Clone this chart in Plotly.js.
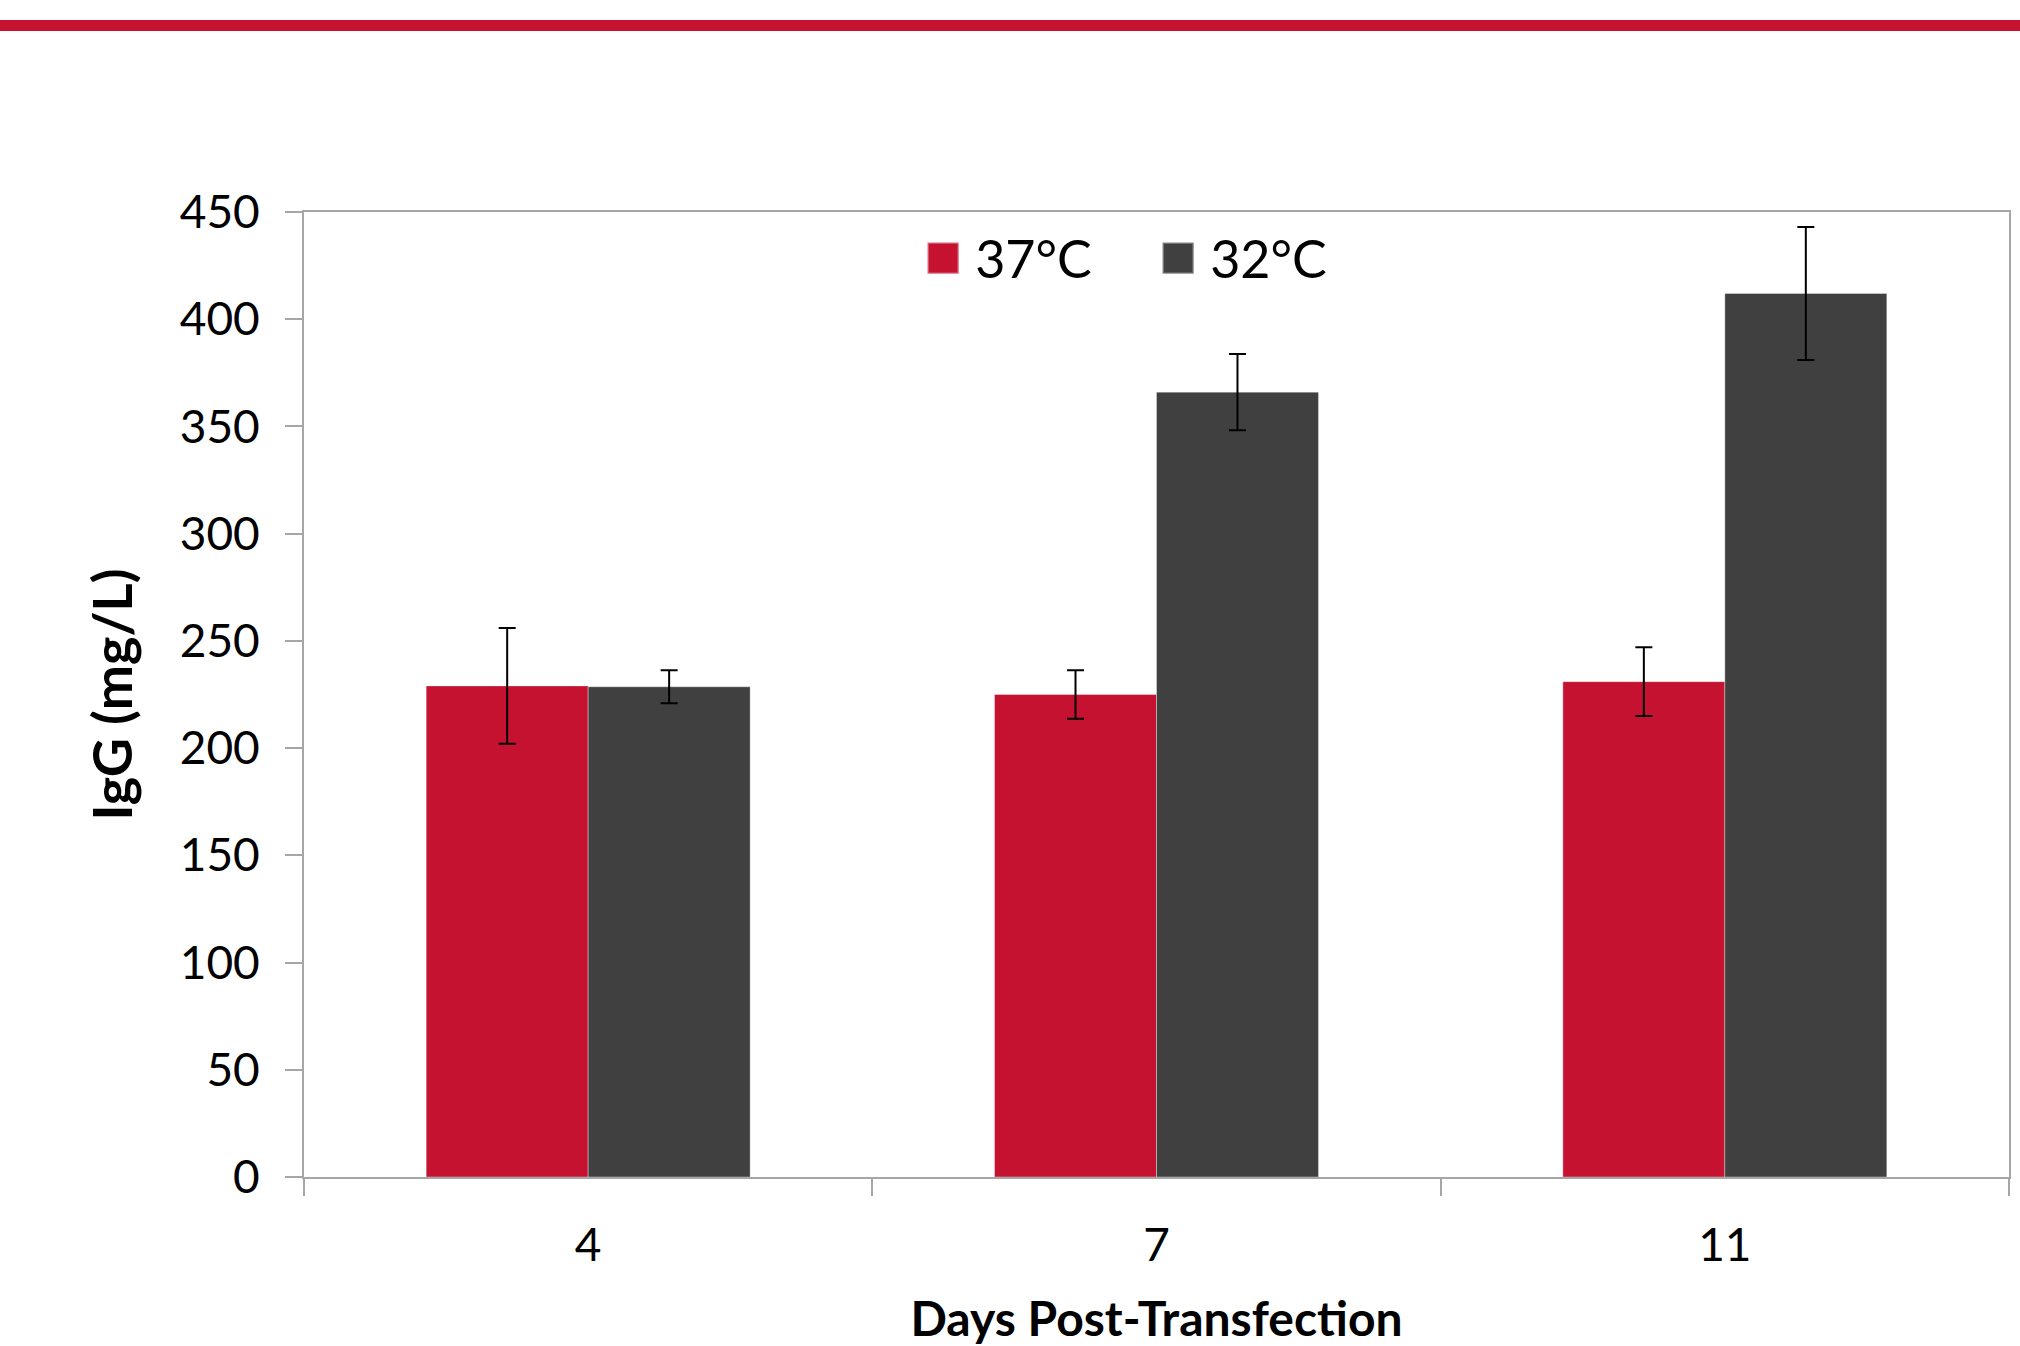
<!DOCTYPE html>
<html>
<head>
<meta charset="utf-8">
<script src="https://cdn.plot.ly/plotly-3.0.1.min.js"></script>
<style>
html, body { margin: 0; padding: 0; background: #ffffff; }
#chart { width: 2020px; height: 1346px; }
</style>
</head>
<body>
<div id="chart"></div>
<script>
// ---- Data ----
var days = ["4", "7", "11"];
var seriesNames = ["37°C", "32°C"];
var igg37 = [229, 225, 231];
var err37 = [27, 11.3, 16];
var igg32 = [228.6, 366, 412];
var err32 = [7.7, 17.8, 31];
var yTicks = [0, 50, 100, 150, 200, 250, 300, 350, 400, 450];

var W = 2020, H = 1346;
var M = { l: 304, r: 11, t: 212, b: 169 };
var plotW = W - M.l - M.r, plotH = H - M.t - M.b;

var axisGrey = "#a6a6a6";
var FONT = "Lato, 'Open Sans', 'DejaVu Sans', sans-serif";

var errStyle = { type: "data", visible: true, color: "#000000", thickness: 2, width: 8.5 };

var traces = [
  {
    type: "bar", name: seriesNames[0], x: days, y: igg37,
    marker: { color: "#C41230", line: { color: "rgba(255,255,255,0.35)", width: 1 } },
    error_y: Object.assign({ array: err37 }, errStyle)
  },
  {
    type: "bar", name: seriesNames[1], x: days, y: igg32,
    marker: { color: "#404040", line: { color: "rgba(255,255,255,0.35)", width: 1 } },
    error_y: Object.assign({ array: err32 }, errStyle)
  }
];

var layout = {
  width: W, height: H,
  margin: M,
  paper_bgcolor: "#ffffff", plot_bgcolor: "#ffffff",
  font: { family: FONT, color: "#000000", size: 46 },
  barmode: "group", bargap: 0.43, bargroupgap: 0,
  showlegend: true,
  legend: {
    orientation: "h", x: 0.508, y: 0.952, xanchor: "center", yanchor: "middle",
    font: { family: FONT, size: 52, color: "#000000" },
    bgcolor: "rgba(0,0,0,0)", traceorder: "normal",
    entrywidth: 190, entrywidthmode: "pixels"
  },
  xaxis: {
    type: "category",
    showline: true, linecolor: axisGrey, linewidth: 2, mirror: true,
    ticks: "outside", tickson: "boundaries", ticklen: 17, tickcolor: axisGrey, tickwidth: 2,
    tickfont: { family: FONT, size: 46, color: "#000000" },
    ticklabelstandoff: 27,
    showgrid: false, zeroline: false,
    title: { text: "Days Post-Transfection", font: { family: FONT, size: 48, color: "#000000", weight: "bold" }, standoff: 34 }
  },
  yaxis: {
    range: [0, 450], tickvals: yTicks, ticktext: yTicks.map(String),
    showline: true, linecolor: axisGrey, linewidth: 2, mirror: true,
    ticks: "outside", ticklen: 17, tickcolor: axisGrey, tickwidth: 2,
    tickfont: { family: FONT, size: 46, color: "#000000" },
    ticklabelstandoff: 16,
    showgrid: false, zeroline: false,
    title: { text: "IgG (mg/L)", font: { family: FONT, size: 54, color: "#000000", weight: "bold" }, standoff: 30 }
  },
  shapes: [
    {
      type: "rect", xref: "paper", yref: "paper",
      x0: -M.l / plotW, x1: 1 + M.r / plotW,
      y0: (H - M.b - 31) / plotH, y1: (H - M.b - 20) / plotH,
      fillcolor: "#C41230", line: { width: 0 }, layer: "above"
    }
  ]
};

Plotly.newPlot("chart", traces, layout, { displayModeBar: false, staticPlot: true }).then(function () {
  document.querySelectorAll(".legend [clip-path]").forEach(function (el) {
    el.removeAttribute("clip-path");
  });
  document.querySelectorAll(".legendpoints path").forEach(function (p) {
    p.setAttribute("transform", "translate(8,0) scale(2.6)");
  });
});
</script>
</body>
</html>
